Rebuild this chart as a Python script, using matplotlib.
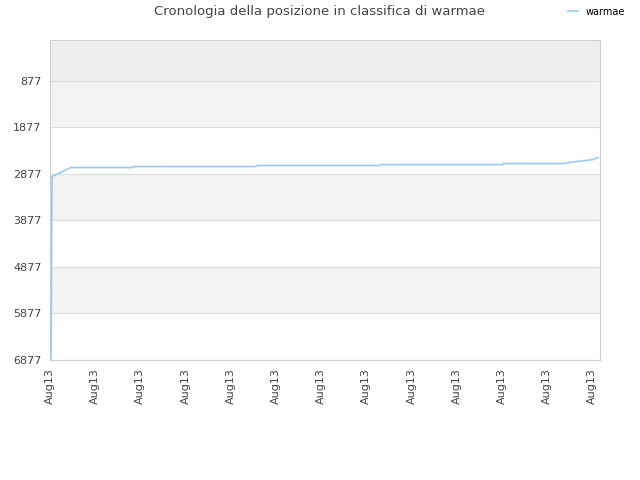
import matplotlib
matplotlib.use("Agg")
import matplotlib.pyplot as plt

# posizione in classifica, tempo in unità di tick
t = [0.022, 0.044, 0.458, 1.830, 1.836, 4.558, 4.569, 7.301, 7.312,
     10.015, 10.022, 11.372, 11.504, 11.659, 11.858, 12.013, 12.124]
rank = [6877, 2935, 2741, 2741, 2720, 2720, 2698, 2698, 2677,
        2677, 2655, 2655, 2630, 2610, 2590, 2570, 2526]

yticks = [877, 1877, 2877, 3877, 4877, 5877, 6877]
xlabels = ["Aug13"] * 13

fig = plt.figure(figsize=(6.4, 4.8), dpi=100)
ax = fig.add_axes([50 / 640, 1 - 360 / 480, 550 / 640, 320 / 480])

# bande alternate
ax.axhspan(0, yticks[0], color="#eeeeee", zorder=0, lw=0)
for i in range(0, len(yticks) - 1, 2):
    ax.axhspan(yticks[i], yticks[i + 1], color="#f3f3f3", zorder=0, lw=0)

for y in yticks:
    ax.axhline(y, color="#dddddd", lw=0.8, zorder=1)

ax.plot(t, rank, color="#9cc9f2", lw=1.2, zorder=3, label="warmae")

ax.set_ylim(6877, 0)
ax.set_xlim(0, 550 / 45.2)
ax.set_yticks(yticks)
ax.set_yticklabels([str(v) for v in yticks], fontsize=8, color="#444444")
ax.set_xticks(range(13))
ax.set_xticklabels(xlabels, rotation=90, fontsize=8, color="#444444")
ax.tick_params(length=0, pad=6)

for s in ax.spines.values():
    s.set_color("#d0d0d0")
    s.set_linewidth(0.8)

fig.text(0.5, 1 - 12 / 480, "Cronologia della posizione in classifica di warmae",
         ha="center", va="center", fontsize=9.5, color="#444444")
ax.legend(loc="upper right", bbox_to_anchor=((632 - 50) / 550, 1 + 40 / 320), frameon=False,
          fontsize=7, handlelength=1, handletextpad=0.8, borderaxespad=0.3)

fig.savefig("out.png", dpi=100)
